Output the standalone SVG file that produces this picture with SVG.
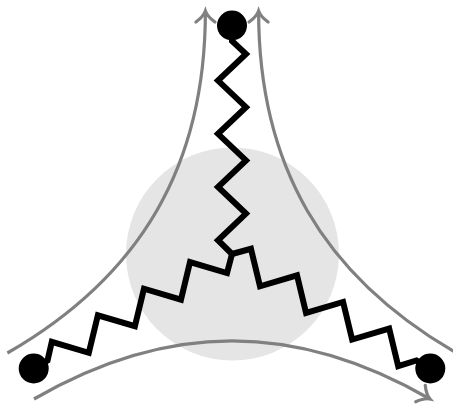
<svg xmlns="http://www.w3.org/2000/svg" width="453" height="405" viewBox="0 0 453 405">
  <style>
    .blob { fill: #e5e5e5; }
    .flow { fill: none; stroke: #808080; stroke-width: 3.2; marker-end: url(#arr); }
    .zz { fill: none; stroke: #000; stroke-width: 6; stroke-linejoin: miter; stroke-miterlimit: 10; }
    .dot { fill: #000; }
  </style>
  <defs>
    <marker id="arr" markerUnits="userSpaceOnUse" markerWidth="30" markerHeight="30" viewBox="-15 -15 30 30" refX="0" refY="0" orient="auto" overflow="visible">
      <path d="M-11,-9.5 C-7,-4 -3,-1 0,0 C-3,1 -7,4 -11,9.5" fill="none" stroke="#808080" stroke-width="3.2" stroke-linecap="round"/>
    </marker>
  </defs>
  <rect width="453" height="405" fill="#fff"/>
  <g id="blob">
    <circle class="blob" cx="232.5" cy="254" r="106.5"/>
  </g>
  <g id="connectors">
    <path class="flow" d="M34,399 C168,321.5 296,321.5 430,399"/>
    <path class="flow" d="M7.4,353 C141.5,275.7 205.5,164.8 205.4,11"/>
    <path class="flow" d="M456.6,353 C322.5,275.7 258.5,164.8 258.6,11"/>
    <path class="zz" d="M232,25 L232,41 L246,54 L218,80.6 L246,107.2 L218,133.8 L246,160.4 L218,187 L246,213.6 L218,240.2 L232,254"/>
    <path class="zz" transform="rotate(-120 232 254)" d="M232,25 L232,41 L246,54 L218,80.6 L246,107.2 L218,133.8 L246,160.4 L218,187 L246,213.6 L218,240.2 L232,254"/>
    <path class="zz" transform="rotate(120 232 254)" d="M232,25 L232,41 L246,54 L218,80.6 L246,107.2 L218,133.8 L246,160.4 L218,187 L246,213.6 L218,240.2 L232,254"/>
  </g>
  <g id="node-top">
    <circle class="dot" cx="232" cy="25.5" r="15"/>
  </g>
  <g id="node-left">
    <circle class="dot" cx="33.7" cy="368.5" r="15"/>
  </g>
  <g id="node-right">
    <circle class="dot" cx="430.3" cy="368.5" r="15"/>
  </g>
</svg>
